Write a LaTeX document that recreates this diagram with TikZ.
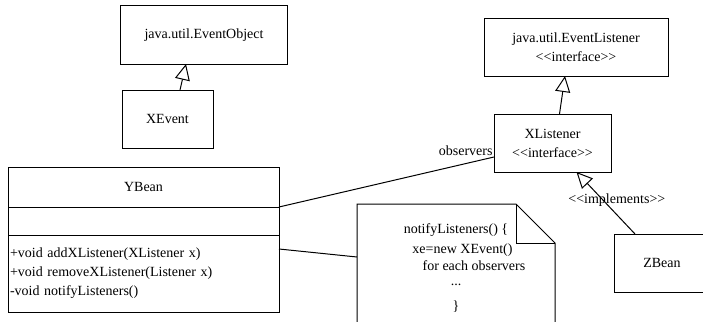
\documentclass[tikz,border=0pt]{standalone}
\usepackage{fontspec}
\setmainfont{Liberation Serif}
\usetikzlibrary{arrows.meta, positioning, calc}
\tikzset{>=latex}
\tikzset{
  umlbox/.style = {draw, line width = 1pt, outer sep = 0pt, inner sep = 2pt, align = center,
    font = \fontsize{14}{19}\selectfont},
  notebox/.style = {outer sep = 0pt, inner sep = 2pt, align = center,
    font = \fontsize{14}{17}\selectfont},
  inherit/.style = {line width = 1pt, -{Triangle[open, length=16pt, width=15pt]}},
  assoc/.style = {line width = 1pt},
  lbl/.style = {font = \fontsize{14}{17}\selectfont, inner sep = 1pt}
}

\begin{document}
\begin{tikzpicture}[x = 1pt, y = -1pt]
\useasboundingbox (0,0) rectangle (703,321);
% event side
\node[umlbox, minimum width = 167, minimum height = 58] (eventobject) at (204,35) {java.util.EventObject};
\node[umlbox, minimum width = 91, minimum height = 58] (xevent) at (167.5,119) {XEvent};
\draw[inherit] ([xshift=12.5pt]xevent.north) -- ([xshift=-18pt]eventobject.south);
% listener side
\node[umlbox, minimum width = 184, minimum height = 57] (eventlistener) at (576,47.5) {java.util.EventListener\\{<}{<}interface{>}{>}};
\node[umlbox, minimum width = 117, minimum height = 58] (xlistener) at (552.5,143) {XListener\\{<}{<}interface{>}{>}};
\draw[inherit] ([xshift=7pt]xlistener.north) -- ([xshift=-11pt]eventlistener.south);
\node[umlbox, minimum width = 96, minimum height = 58] (zbean) at (662,263) {ZBean};
\draw[inherit] ([xshift=-27pt]zbean.north) -- ([xshift=24pt]xlistener.south)
  node[lbl, pos = 0.55, xshift = 14pt] {{<}{<}implements{>}{>}};
% the bean
\node[umlbox, minimum width = 271, minimum height = 40] (ybean) at (143.5,187) {YBean};
\node[umlbox, minimum width = 271, minimum height = 28, below = 0pt of ybean] (ybeanattr) {};
\node[umlbox, minimum height = 77, text width = 267, align = left, below = 0pt of ybeanattr] (ybeanops)
  {+void addXListener(XListener x)\\+void removeXListener(Listener x)\\-void notifyListeners()};
\draw[assoc] (ybean.south east) -- ([yshift=-14pt]xlistener.west)
  node[lbl, pos = 1, anchor = south east] {observers};
% note
\node[notebox, minimum width = 198, minimum height = 128] (note) at (456,268)
  {notifyListeners() \{\\[3pt]
   \hspace*{13pt}xe=new XEvent()\\
   \hspace*{36pt}for each observers\\[-2pt]
   ...\\[8pt]
   \}};
\draw[line width = 1pt] (note.south west) -- (note.north west) -- ([xshift=-39pt]note.north east)
  -- ([yshift=-39pt]note.north east) -- (note.south east);
\draw[line width = 1pt] ([xshift=-39pt]note.north east) |- ([yshift=-39pt]note.north east);
\draw[assoc] ([yshift=-14pt]ybeanops.north east) -- ([yshift=11pt]note.west);
\end{tikzpicture}
\end{document}
